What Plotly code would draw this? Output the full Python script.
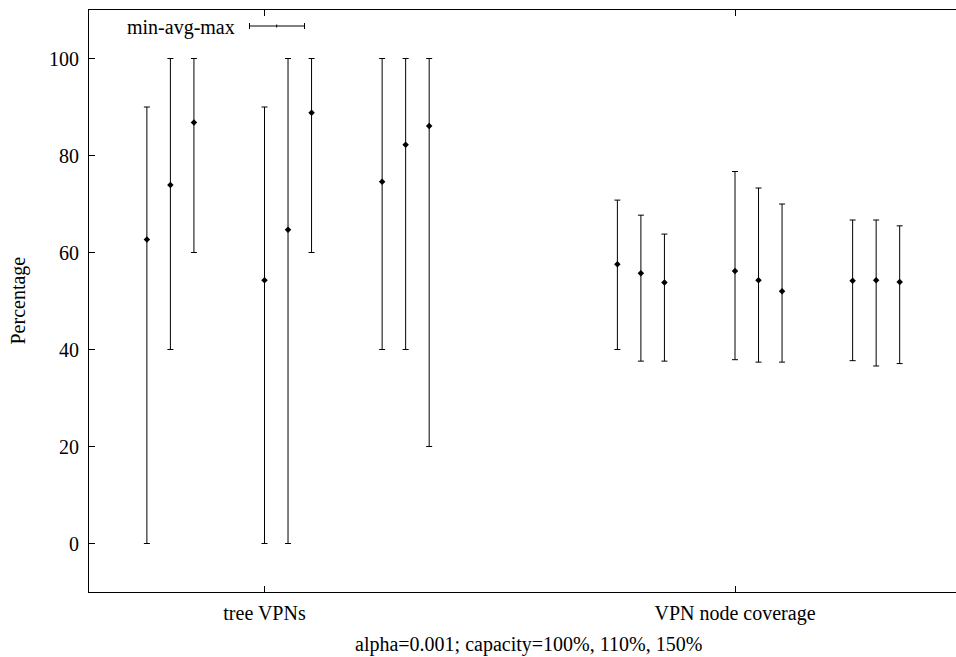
import plotly.graph_objects as go

# ---- data ----
categories = ["tree VPNs", "VPN node coverage"]
category_pos = [1, 2]
group_offsets = [-0.25, 0.0, 0.25]
capacity_offsets = [0.0, 0.05, 0.10]   # capacity = 100%, 110%, 150%

tree_avg = [62.7, 73.9, 86.8, 54.3, 64.7, 88.8, 74.6, 82.2, 86.1]
tree_min = [0, 40, 60, 0, 0, 60, 40, 40, 20]
tree_max = [90, 100, 100, 90, 100, 100, 100, 100, 100]

cov_avg = [57.6, 55.7, 53.8, 56.2, 54.3, 52.0, 54.2, 54.3, 53.9]
cov_min = [40.0, 37.6, 37.6, 37.9, 37.4, 37.4, 37.7, 36.6, 37.1]
cov_max = [70.8, 67.7, 63.8, 76.7, 73.3, 70.0, 66.7, 66.7, 65.5]

y_ticks = [0, 20, 40, 60, 80, 100]

# ---- layout geometry ----
W, H = 956, 657
ML, MR, MT, MB = 89, 0, 10, 65
PW, PH = W - ML - MR, H - MT - MB


def px(xp):
    return (xp - ML) / PW


def py(yp):
    return (H - MB - yp) / PH


FONT = "Liberation Serif"

fig = go.Figure()

series = [(tree_avg, tree_min, tree_max), (cov_avg, cov_min, cov_max)]
for cpos, (avg, mn, mx) in zip(category_pos, series):
    xs, ys, up, dn = [], [], [], []
    i = 0
    for g in group_offsets:
        for k in capacity_offsets:
            xs.append(cpos + g + k)
            ys.append(avg[i])
            up.append(mx[i] - avg[i])
            dn.append(avg[i] - mn[i])
            i += 1
    fig.add_trace(go.Scatter(
        x=xs, y=ys, mode="markers",
        marker=dict(symbol="diamond", size=5, color="black"),
        error_y=dict(type="data", symmetric=False, array=up, arrayminus=dn,
                     color="black", thickness=1, width=3),
        showlegend=False, hoverinfo="skip",
    ))

fig.update_layout(
    width=W, height=H,
    margin=dict(l=ML, r=MR, t=MT, b=MB, pad=0),
    paper_bgcolor="white", plot_bgcolor="white",
    font=dict(family=FONT, size=20, color="black"),
    xaxis=dict(
        range=[1 - (264.5 - ML) / 470.5, 2 + (W - 735) / 470.5],
        tickvals=category_pos, ticktext=categories,
        ticks="inside", ticklen=6, tickcolor="black", tickwidth=1,
        showline=True, linecolor="black", linewidth=1, mirror="ticks",
        showgrid=False, zeroline=False, ticklabelstandoff=3,
    ),
    yaxis=dict(
        range=[-10, 110], tickvals=y_ticks,
        ticks="inside", ticklen=6, tickcolor="black", tickwidth=1,
        showline=True, linecolor="black", linewidth=1, mirror=False,
        showgrid=False, zeroline=False, ticklabelstandoff=5,
    ),
)

# axis titles
fig.add_annotation(text="Percentage", xref="paper", yref="paper",
                   x=px(17.5), y=py(301), textangle=-90, showarrow=False,
                   xanchor="center", yanchor="middle", font=dict(size=20))
fig.add_annotation(text="alpha=0.001; capacity=100%, 110%, 150%",
                   xref="paper", yref="paper", x=px(528), y=py(644),
                   showarrow=False, xanchor="center", yanchor="middle",
                   font=dict(size=20))

# key
fig.add_annotation(text="min-avg-max", xref="paper", yref="paper",
                   x=px(237), y=py(27), showarrow=False,
                   xanchor="right", yanchor="middle", font=dict(size=20))
kx0, kx1, kxm, ky = 249.5, 304.5, 276.7, 26
line = dict(color="black", width=1)
fig.add_shape(type="line", xref="paper", yref="paper",
              x0=px(kx0), x1=px(kx1), y0=py(ky), y1=py(ky), line=line)
for xx in (kx0, kx1):
    fig.add_shape(type="line", xref="paper", yref="paper",
                  x0=px(xx), x1=px(xx), y0=py(ky - 3), y1=py(ky + 3), line=line)
fig.add_shape(type="line", xref="paper", yref="paper",
              x0=px(kxm), x1=px(kxm), y0=py(ky - 1.5), y1=py(ky + 1.5), line=line)

fig.write_html("out.html")
